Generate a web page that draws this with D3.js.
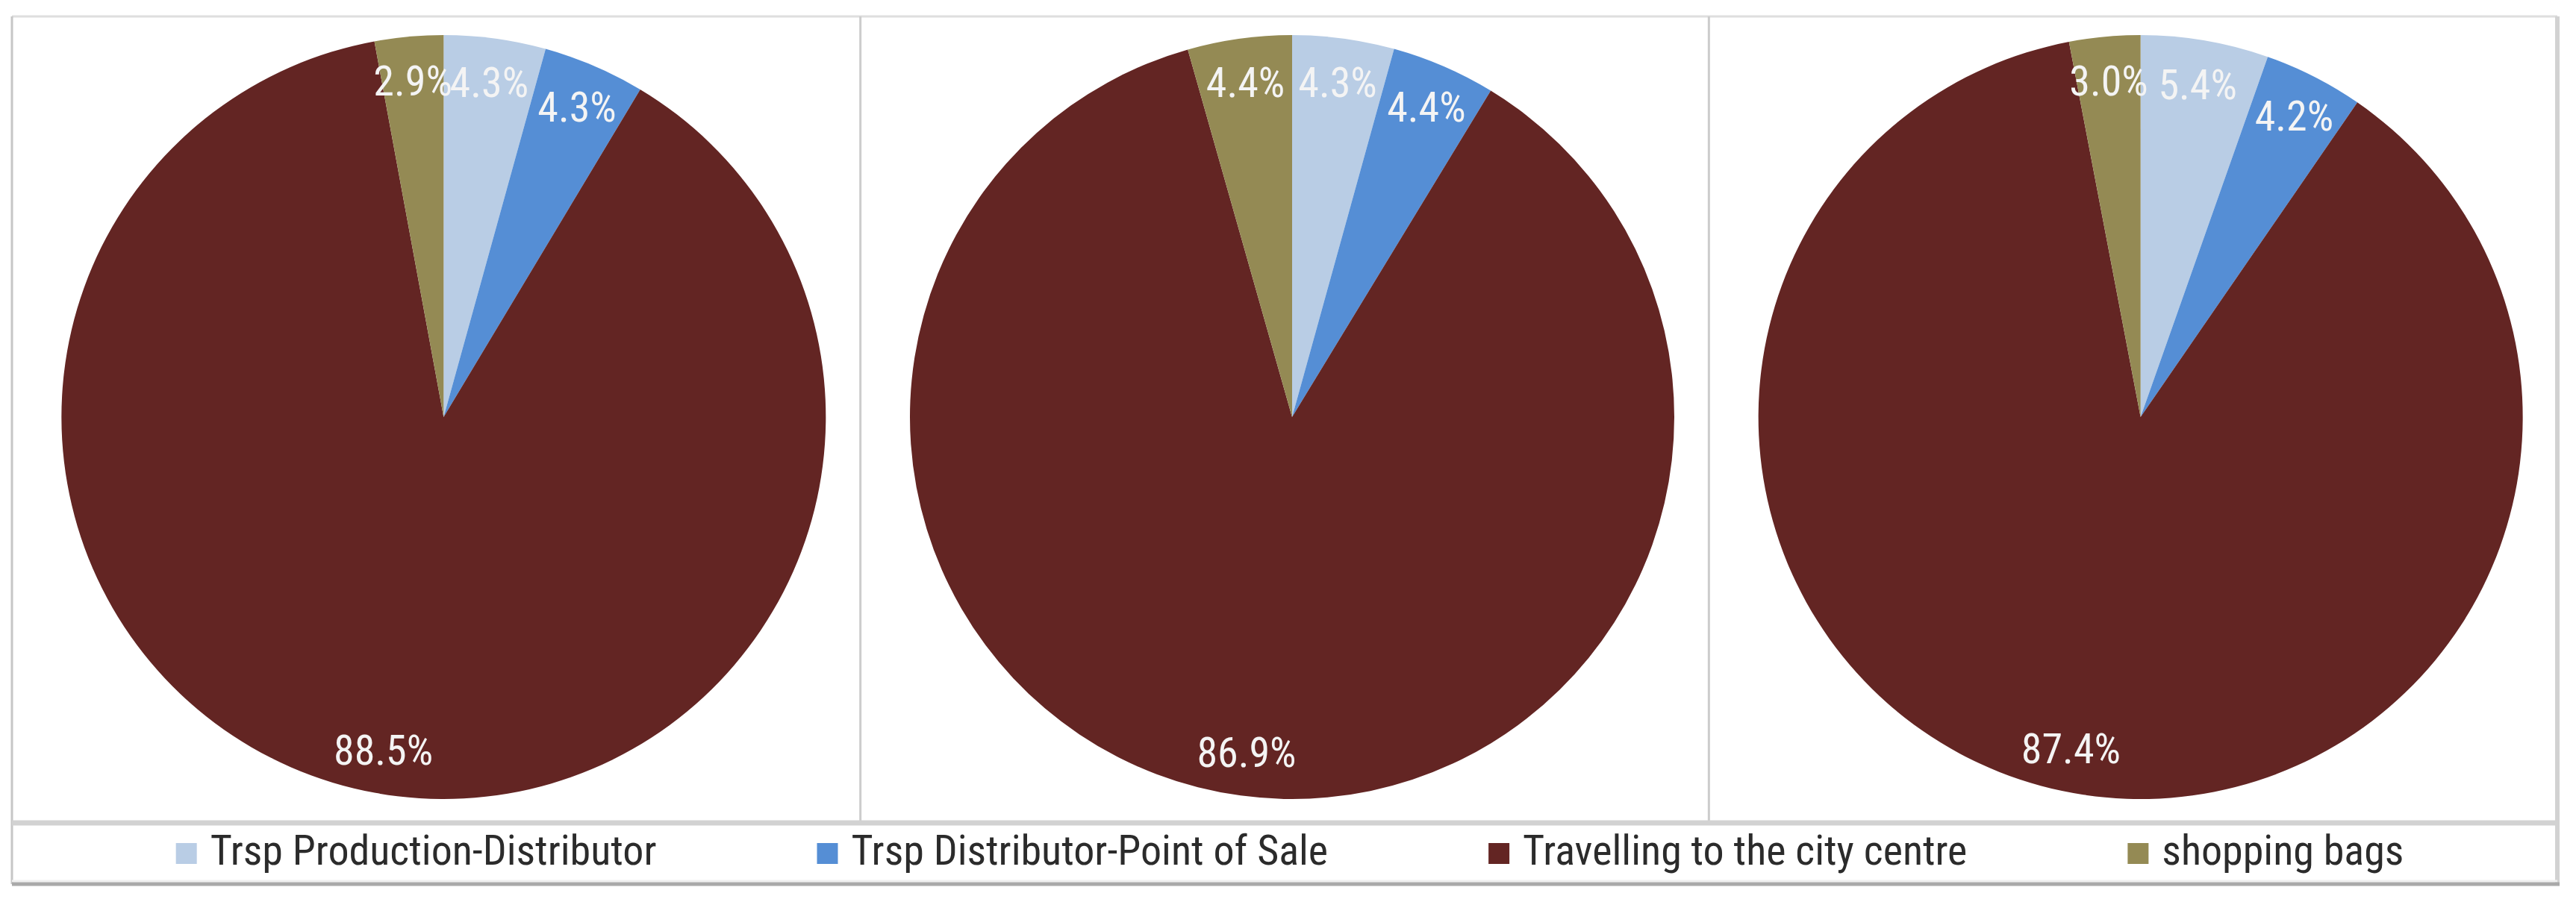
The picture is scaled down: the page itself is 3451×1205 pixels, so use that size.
<!DOCTYPE html>
<html>
<head>
<meta charset="utf-8">
<script src="https://cdn.jsdelivr.net/npm/d3@7"></script>
<style>
  html, body { margin: 0; padding: 0; background: #fff; }
  svg { display: block; }
</style>
</head>
<body>
<div id="chart"></div>
<script>
/* data */
const categories = [
  "Trsp Production-Distributor",
  "Trsp Distributor-Point of Sale",
  "Travelling to the city centre",
  "shopping bags"
];
const pieLeft   = [4.3, 4.3, 88.5, 2.9];
const pieMiddle = [4.3, 4.4, 86.9, 4.4];
const pieRight  = [5.4, 4.2, 87.4, 3.0];
const pies = [pieLeft, pieMiddle, pieRight];

const colours = ["#B9CDE5", "#558ED5", "#632523", "#948A54"];

const width  = 3451;
const height = 1205;
const frame  = { left: 16, top: 22, right: 3426, legendTop: 1103, bottom: 1185 };
const FONT   = "'Liberation Sans Narrow', 'Roboto Condensed', 'DejaVu Sans Condensed', Lato, sans-serif";

const radius  = 512;
const centreY = 559;

const svg = d3.select("#chart").append("svg")
  .attr("width", width)
  .attr("height", height);

svg.append("rect")
  .attr("width", width)
  .attr("height", height)
  .attr("fill", "#fff");

/* one band per pie panel */
const panel = d3.scaleBand([0, 1, 2], [frame.left, frame.right]).paddingInner(0);

const colour = d3.scaleOrdinal(categories, colours);
const pie = d3.pie().sort(null).value(d => d.value);
const arc = d3.arc().innerRadius(0).outerRadius(radius);
const labelArc = d3.arc().innerRadius(radius * 0.885).outerRadius(radius * 0.885);
const fmt = d => d3.format(".1f")(d) + "%";

/* frame lines */
const lines = svg.append("g").attr("fill", "none");
lines.append("line")   // top
  .attr("x1", frame.left).attr("x2", frame.right)
  .attr("y1", frame.top).attr("y2", frame.top)
  .attr("stroke", "#dedede").attr("stroke-width", 3);
lines.append("line")   // left
  .attr("x1", frame.left).attr("x2", frame.left)
  .attr("y1", frame.top).attr("y2", frame.bottom)
  .attr("stroke", "#c6c6c6").attr("stroke-width", 3);
lines.append("line")   // right
  .attr("x1", frame.right).attr("x2", frame.right)
  .attr("y1", frame.top).attr("y2", frame.bottom)
  .attr("stroke", "#d2d2d2").attr("stroke-width", 6);

/* panel dividers */
lines.selectAll(".divider")
  .data([1, 2])
  .join("line")
    .attr("class", "divider")
    .attr("x1", d => panel(d)).attr("x2", d => panel(d))
    .attr("y1", frame.top).attr("y2", frame.legendTop)
    .attr("stroke", "#cccccc").attr("stroke-width", 3);

/* legend box lines */
lines.append("line")
  .attr("x1", frame.left).attr("x2", frame.right)
  .attr("y1", frame.legendTop).attr("y2", frame.legendTop)
  .attr("stroke", "#d2d2d2").attr("stroke-width", 7);
lines.append("line")
  .attr("x1", frame.left).attr("x2", frame.right)
  .attr("y1", frame.bottom - 4).attr("y2", frame.bottom - 4)
  .attr("stroke", "#efefef").attr("stroke-width", 3);
lines.append("line")
  .attr("x1", frame.left).attr("x2", frame.right + 3)
  .attr("y1", frame.bottom).attr("y2", frame.bottom)
  .attr("stroke", "#a9a9a9").attr("stroke-width", 5);

/* pies */
pies.forEach((values, i) => {
  const rows = categories.map((c, k) => ({ key: c, value: values[k] }));
  const cx = panel(i) + panel.bandwidth() / 2 + 10;

  const g = svg.append("g")
    .attr("transform", `translate(${cx},${centreY})`);

  const arcs = pie(rows);

  g.selectAll("path")
    .data(arcs)
    .join("path")
      .attr("d", arc)
      .attr("fill", d => colour(d.data.key));

  g.selectAll("text")
    .data(arcs)
    .join("text")
      .attr("transform", d => `translate(${labelArc.centroid(d)})`)
      .attr("text-anchor", "middle")
      .attr("dy", "0.36em")
      .attr("font-family", FONT)
      .attr("font-size", 56)
      .attr("fill", "#f4f4f4")
      .text(d => fmt(d.data.value));
});

/* legend, centred under the pies */
const legend = svg.append("g")
  .attr("font-family", FONT)
  .attr("font-size", 56)
  .attr("fill", "#2b2b2b");

const items = legend.selectAll("g")
  .data(categories)
  .join("g");

items.append("rect")
  .attr("y", -29)
  .attr("width", 28)
  .attr("height", 28)
  .attr("fill", d => colour(d));

items.append("text")
  .attr("x", 46)
  .attr("y", 0)
  .text(d => d);

const gap = 215;
let offset = 0;
const widths = [];
items.each(function () {
  const w = 46 + d3.select(this).select("text").node().getComputedTextLength();
  widths.push(w);
});
const total = d3.sum(widths) + gap * (widths.length - 1);
const startX = (frame.left + frame.right) / 2 - total / 2 + 7;
items.attr("transform", (d, i) => {
  const x = startX + offset;
  offset += widths[i] + gap;
  return `translate(${x},1159)`;
});
</script>
</body>
</html>
